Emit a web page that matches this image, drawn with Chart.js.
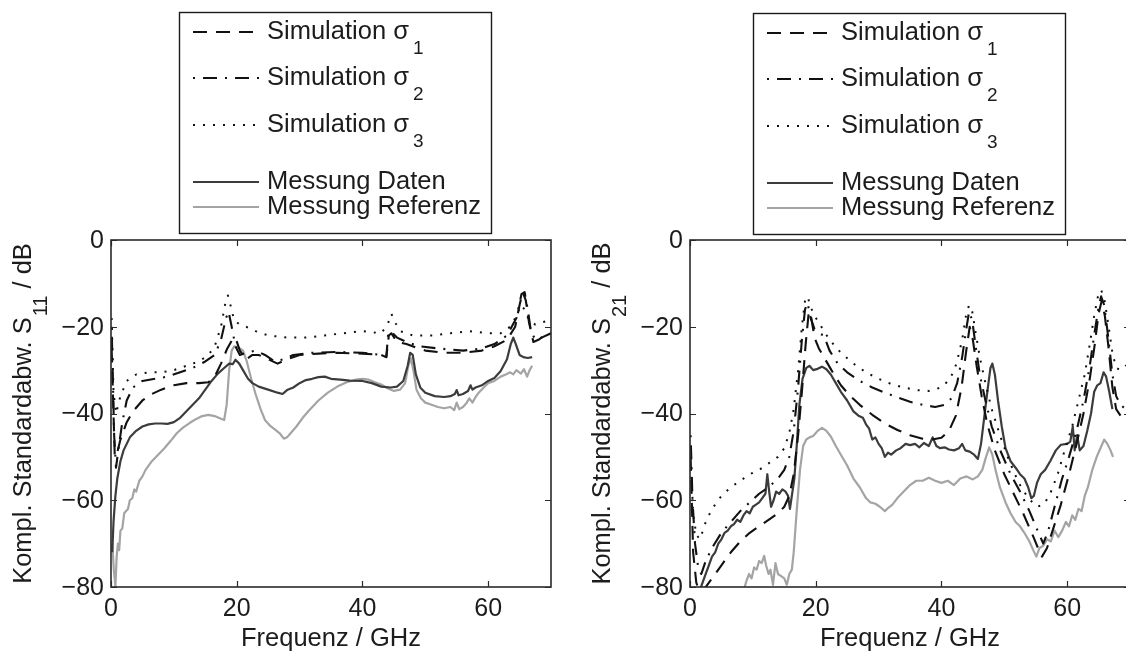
<!DOCTYPE html>
<html>
<head>
<meta charset="utf-8">
<title>Kompl. Standardabweichung S11 / S21</title>
<script src="https://cdn.jsdelivr.net/npm/chart.js@4/dist/chart.umd.min.js"></script>
<style>
  html, body { margin: 0; padding: 0; background: #fff; }
  body { width: 1126px; height: 655px; overflow: hidden; position: relative; }
  .panel { position: absolute; top: 0; width: 563px; height: 655px; }
  #p11 { left: 0; }
  #p21 { left: 579px; }
</style>
</head>
<body>
<div class="panel" id="p11"><canvas id="c11" width="563" height="655"></canvas></div>
<div class="panel" id="p21"><canvas id="c21" width="563" height="655"></canvas></div>
<script>
// ---- axis ticks ----
const xTicks = [0, 20, 40, 60];
const xTickLabels = ['0', '20', '40', '60'];
const yTicks = [-80, -60, -40, -20, 0];
const yTickLabels = ['\u221280', '\u221260', '\u221240', '\u221220', '0'];

// ---- legend ----
const legendNames = ['Simulation \u03c3', 'Simulation \u03c3', 'Simulation \u03c3', 'Messung Daten', 'Messung Referenz'];
const legendSubs = ['1', '2', '3', '', ''];

// ---- S11: [frequency GHz, dB] ----
const s11Sigma1 = [[0.1,-25],[0.6,-50],[1,-49],[1.5,-46],[2.5,-42],[3.5,-39.5],[5,-37],[6.5,-35.5],[8,-34.5],[10,-33.5],[12,-33],[14,-33],[15.5,-32.8],[16.5,-31.5],[17.5,-28.5],[18.5,-25],[19.3,-23],[19.8,-22.5],[20.5,-25.5],[21.5,-27.5],[22.5,-26.5],[23.5,-26.5],[25,-27.5],[26.5,-28.5],[28,-27.5],[30,-26.5],[33,-26.2],[36,-26],[40,-26.2],[43,-26.5],[43.8,-27],[44.2,-22],[44.6,-21.5],[45.5,-23.5],[47,-24],[48.5,-24.8],[50,-25.5],[53,-26],[56,-26],[59,-25.5],[61,-24.5],[63,-23],[64.3,-20],[65,-15],[65.5,-12],[66,-14],[66.5,-19],[67.2,-23.5],[68,-23],[69,-22],[70,-21.5]];
const s11Sigma2 = [[0.1,-20],[0.5,-45],[0.8,-52.5],[1.2,-48],[1.8,-42],[2.5,-37],[3.5,-34],[5,-32.5],[7,-32],[9,-31.5],[11,-30.5],[13,-29.5],[15,-28],[16.5,-26.5],[17.5,-23],[18.3,-18],[18.7,-16.5],[19.2,-20],[19.8,-24.5],[20.5,-26.5],[21.5,-26],[23,-25.5],[24.5,-26.5],[26,-28],[27.5,-27.5],[29,-26.5],[32,-26],[36,-25.8],[40,-26],[43,-26.5],[43.8,-27],[44.1,-21.5],[44.5,-21],[45.5,-22.5],[47,-23.5],[49,-24.5],[52,-25],[56,-25.5],[59,-25],[61,-24],[63,-22],[64.5,-18],[65.3,-12.5],[65.8,-12],[66.3,-16],[66.8,-21],[67.5,-23],[68.5,-22.5],[70,-21.5]];
const s11Sigma3 = [[0.1,-18],[0.4,-35],[0.8,-40],[1.5,-36],[2.5,-32.5],[4,-31],[6,-30.5],[8,-30.5],[10,-30],[12,-29],[14,-28],[15.5,-26.5],[16.5,-24.5],[17.5,-20],[18.2,-14.5],[18.6,-12.8],[19,-15],[19.6,-18.5],[20.5,-19.5],[21.5,-20],[23,-21],[25,-22],[28,-22.5],[31,-22.5],[34,-22],[37,-21.5],[40,-21],[43,-21.5],[44,-19.5],[44.6,-17],[45.2,-19],[46,-21],[48,-22],[51,-22],[54,-21.5],[57,-21],[60,-21.5],[62,-21.5],[63.5,-20],[64.5,-17.5],[65.2,-15],[65.8,-16],[66.5,-18.5],[67.5,-19.5],[68.5,-19],[70,-18.5]];
const s11Daten = [[0.2,-72],[0.4,-65],[0.7,-59],[1,-55],[1.5,-51],[2,-48.5],[3,-45.5],[4,-44],[5,-43],[6,-42.5],[7,-42.3],[8,-42.3],[9,-42.4],[10,-42],[11,-41],[12,-39.5],[13,-38],[14,-36.5],[15,-34.5],[16,-32.5],[17,-30.8],[18,-29.5],[18.8,-28.5],[19.4,-28.6],[19.8,-27.6],[20.4,-28.5],[21,-30],[21.8,-32],[22.5,-33],[23.5,-33.8],[25,-34.5],[26.5,-35.2],[27.3,-35.5],[28,-34.6],[29,-34],[30,-33],[31,-32.3],[32,-32],[33,-31.6],[34,-31.5],[35,-32],[36.5,-32.2],[38,-32.4],[40,-32.5],[41.5,-33],[43,-33.8],[44.5,-34],[45.5,-33.8],[46.5,-32.5],[47.2,-29],[47.6,-26],[48,-26.5],[48.5,-31],[49.2,-34],[50,-35.2],[51.5,-36],[53,-36.2],[54,-36],[54.7,-35.5],[55,-34.6],[55.3,-35.8],[56,-35.5],[56.8,-34.8],[57.2,-33.5],[57.5,-34.5],[58,-34],[59,-33.5],[60,-32.5],[61,-31.8],[62,-30.2],[63,-27.5],[63.6,-24],[64,-22.5],[64.4,-24],[65,-26.5],[65.6,-27],[66.3,-27.2],[67,-27]];
const s11Referenz = [[0.2,-70],[0.45,-76],[0.7,-80],[0.9,-73],[1.1,-70],[1.3,-71.5],[1.5,-67],[1.8,-66.5],[2.1,-63],[2.4,-62.5],[2.7,-62],[3,-60],[3.4,-59.5],[3.7,-57.5],[4,-58],[4.5,-55.5],[5,-54.5],[5.5,-53],[6.5,-51],[7.5,-49.5],[8.5,-48],[9.5,-46.3],[10.5,-44.5],[11.5,-43.2],[12.5,-42.2],[13.5,-41.3],[14.5,-40.6],[15.5,-40.3],[16.5,-40.6],[17.5,-41.2],[18,-41.5],[18.4,-38],[18.8,-30],[19.2,-25.5],[19.6,-24.5],[20.3,-24.8],[21,-25.5],[21.6,-28],[22.3,-32],[23,-35.5],[23.8,-39],[24.5,-41.5],[25.3,-42.8],[26,-43.6],[26.8,-44.5],[27.5,-45.8],[28,-45.5],[28.6,-44.5],[29.5,-43],[30.5,-41],[31.5,-39.3],[33,-37],[34.5,-35.2],[36,-33.8],[37.5,-32.8],[39,-32.2],[40,-32],[41,-32.2],[42,-32.8],[43,-33.3],[44,-34.2],[45,-34.8],[46,-34.5],[46.8,-33],[47.3,-29],[47.7,-27.3],[48.1,-30],[48.6,-34.5],[49.3,-36.5],[50,-37.5],[51,-38],[52,-38.5],[53,-38.8],[54,-38.5],[54.6,-39.2],[55,-37.5],[55.4,-39],[56,-38.5],[56.6,-37.5],[57,-36.5],[57.5,-37.5],[58,-36.2],[58.5,-35.2],[59.3,-34],[60,-33],[61,-32.5],[62,-31.5],[62.8,-31],[63.5,-30.5],[64,-31],[64.5,-30],[65.2,-30.8],[65.7,-29.8],[66.2,-31.5],[66.6,-30],[67,-29]];

// ---- S21: [frequency GHz, dB] ----
const s21Sigma1 = [[0.1,-50],[0.5,-72],[1,-79],[1.5,-81],[2.5,-80],[3.5,-78],[5,-75],[6.5,-72],[8,-69.5],[9.5,-67.5],[11,-66],[12.5,-64.5],[14,-63],[15,-61.5],[15.8,-59],[16.5,-54],[17.2,-45],[17.8,-35],[18.4,-24],[18.9,-16.5],[19.3,-18],[19.8,-22.5],[20.5,-25],[21.5,-27.5],[22.5,-30],[24,-33.5],[25.5,-36],[27,-38],[29,-40.3],[31,-42.3],[33,-43.8],[35,-45],[37,-45.8],[38.5,-46],[40,-45.6],[41.2,-44],[42.3,-40.5],[43.2,-34],[43.9,-26],[44.5,-20],[45,-23],[45.6,-29],[46.4,-36],[47.3,-42.5],[48.5,-48.5],[50,-54],[51.5,-58.5],[53,-63],[54.5,-68],[55.5,-71.5],[56,-73],[56.8,-71],[57.8,-66.5],[59,-61],[60.3,-54],[61.5,-47],[62.6,-40],[63.6,-32],[64.4,-24],[65,-17],[65.5,-14],[66,-17.5],[66.6,-25],[67.2,-34],[67.8,-39],[68.5,-40.5],[69.3,-40.5],[70,-40]];
const s21Sigma2 = [[0.1,-45],[0.4,-60],[0.8,-70],[1.3,-75.5],[1.8,-77],[2.5,-74],[3.5,-71],[5,-67.5],[6.5,-65],[8,-62.5],[9.5,-60.5],[11,-58.5],[12.5,-57],[14,-55],[15,-53],[15.8,-50],[16.5,-44],[17.2,-34],[17.8,-23],[18.3,-16],[18.7,-14.5],[19.2,-18],[19.8,-20.5],[20.5,-21.5],[21.3,-22],[22.2,-25.5],[23.5,-28.5],[25,-30.5],[27,-32.5],[29,-34],[31,-35.2],[33,-36.3],[35,-37.3],[37,-38],[39,-38.5],[40.5,-38],[41.6,-36.5],[42.5,-33],[43.3,-27],[43.9,-21],[44.4,-16.5],[44.9,-18.5],[45.4,-24],[46.1,-31],[47,-37],[48,-43],[49.5,-49],[51,-54],[52.5,-58],[54,-62.5],[55.3,-67],[56.2,-70],[57,-67],[58,-61.5],[59.2,-55],[60.3,-50],[61.5,-44],[62.6,-37],[63.6,-29],[64.4,-21],[65,-15.5],[65.4,-13],[65.9,-15],[66.5,-22],[67.2,-31],[67.8,-36],[68.5,-38],[69.3,-39],[70,-39.5]];
const s21Sigma3 = [[0.1,-50],[0.5,-63],[1,-68],[1.6,-69],[2.5,-65],[3.5,-62],[5,-59],[6.5,-57],[8,-55.5],[9.5,-54],[11,-53],[12.5,-51.5],[14,-50],[15,-48],[15.8,-44.5],[16.5,-39],[17.2,-30],[17.8,-20],[18.3,-14],[18.7,-13],[19.2,-15.5],[19.8,-17.5],[20.5,-19],[21.5,-21.5],[22.5,-23.5],[24,-26],[26,-28.5],[28,-30.5],[30,-32],[32,-33.2],[34,-34],[36,-34.6],[38,-34.8],[40,-34],[41.4,-32],[42.4,-28.5],[43.3,-23],[43.9,-17.5],[44.4,-15],[44.9,-16.5],[45.4,-21],[46.1,-27],[47,-33],[48,-39],[49.3,-45],[50.8,-51],[52.3,-56],[53.8,-59.5],[55.2,-61.5],[56.3,-61],[57.3,-58.5],[58.5,-54],[59.7,-48],[60.8,-43],[61.8,-37],[62.8,-31],[63.6,-24],[64.3,-17.5],[64.9,-13],[65.4,-11.5],[65.9,-13.5],[66.5,-19],[67.2,-26],[67.8,-29.5],[68.5,-30],[69.3,-29],[70,-28.5]];
const s21Daten = [[1.5,-81],[2,-79],[2.5,-77],[3,-75],[3.5,-73],[4,-72],[4.5,-70],[5,-69],[5.5,-67.5],[6,-67],[6.5,-66],[7,-65.5],[7.5,-64.5],[8,-65],[8.5,-63.5],[9,-62.5],[9.5,-63],[10,-61.5],[10.5,-61],[11,-60.5],[11.5,-59.5],[12,-58.5],[12.3,-54],[12.6,-58],[12.9,-61.5],[13.3,-60],[13.7,-58],[14.2,-58.5],[14.7,-57.5],[15.2,-58],[15.6,-59],[15.9,-62],[16.2,-59],[16.6,-55],[17,-47],[17.4,-38],[17.9,-32],[18.5,-29.5],[19,-29],[19.6,-30],[20.3,-29.7],[21,-29.2],[21.7,-29.8],[22.4,-31],[23.2,-33],[24,-35],[25,-37],[26,-39.5],[26.8,-40.5],[27.5,-41],[28,-42.5],[28.5,-43.5],[29,-46],[29.5,-45.5],[30,-47],[30.5,-48],[31,-50],[31.5,-49],[32,-49.5],[32.8,-48.5],[33.5,-48],[34.3,-47],[35,-47.3],[35.8,-47],[36.5,-47.8],[37.2,-46.8],[38,-47.5],[38.6,-45.5],[39.2,-47.5],[39.8,-48],[40.5,-47.8],[41.2,-48.3],[42,-48.5],[42.8,-48],[43.3,-47],[43.8,-48.5],[44.5,-48.8],[45.2,-49.5],[45.8,-50.5],[46.3,-47],[46.8,-41],[47.3,-35],[47.8,-29.5],[48.1,-28.5],[48.5,-31],[49,-37],[49.6,-43],[50.2,-48],[51,-51],[51.8,-52.5],[52.5,-54],[53.2,-55],[53.8,-57],[54.3,-59.5],[54.7,-59],[55.2,-56],[55.8,-54],[56.5,-53],[57.3,-51],[58.2,-48.5],[59,-47.2],[60,-47],[60.5,-46.5],[60.9,-43],[61.2,-48.5],[61.6,-45],[62,-48.5],[62.6,-47.5],[63.2,-44],[63.8,-40],[64.3,-35],[64.8,-33.5],[65.3,-33],[65.8,-30.5],[66.2,-31.5],[66.7,-35],[67.2,-39]];
const s21Referenz = [[8.7,-80],[9,-78.5],[9.4,-77],[9.8,-78],[10.2,-75.5],[10.6,-76],[11,-74],[11.4,-74.5],[11.8,-72.8],[12.1,-75],[12.5,-77],[12.8,-76],[13.2,-79.5],[13.6,-74.5],[14,-77],[14.5,-77.5],[15,-78],[15.4,-79.5],[15.8,-77],[16.2,-76],[16.5,-72],[17,-62],[17.5,-53],[18,-47.5],[18.5,-46],[19,-45.5],[19.6,-45.2],[20.3,-44],[21,-43.3],[21.7,-44],[22.4,-45.3],[23.2,-47.5],[24,-49.5],[25,-52],[26,-55],[27,-57],[28,-59.5],[28.7,-60.5],[29.5,-60.8],[30.2,-61.5],[31,-62.5],[31.5,-61.8],[32.2,-61],[33,-59.5],[34,-58],[35,-56.5],[36,-55.5],[37,-55.5],[38,-54.8],[39,-55.5],[40,-56],[41,-55.5],[42,-56.5],[43,-55],[44,-54.5],[45,-55.2],[45.8,-54.5],[46.5,-53],[47.1,-50],[47.6,-47.8],[48.1,-49.5],[48.6,-53],[49.3,-57],[50.2,-60.5],[51,-63],[51.8,-65],[52.5,-66],[53.2,-67.5],[54,-69.5],[54.6,-71.5],[55.1,-73],[55.6,-71],[56.2,-70.5],[56.8,-69],[57.4,-69.5],[58,-67],[58.6,-68.5],[59.2,-67],[59.8,-65],[60.3,-66],[60.8,-63.5],[61.3,-64.5],[61.8,-62],[62.3,-62.5],[62.8,-59],[63.3,-57],[64,-53],[64.7,-50],[65.3,-48],[65.9,-46],[66.4,-47],[66.9,-48.5],[67.3,-50]];

// ---- styling ----
const FONT_FAMILY = '"Liberation Sans", Arial, Helvetica, sans-serif';
const TEXT_COLOR = '#1c1c1c';
const seriesStyles = [
  { color: '#111111', width: 2.1, dash: [14, 9] },
  { color: '#111111', width: 2.1, dash: [2, 8, 14, 8] },
  { color: '#111111', width: 2,   dash: [2, 8] },
  { color: '#3c3c3c', width: 2.2, dash: [] },
  { color: '#a4a4a4', width: 2.2, dash: [] }
];

function toPoints(pairs) {
  return pairs.map(([f, v]) => ({ x: f, y: v }));
}

function buildDatasets(seriesList) {
  return seriesList.map((pairs, i) => ({
    label: legendNames[i],
    sub: legendSubs[i],
    data: toPoints(pairs),
    borderColor: seriesStyles[i].color,
    borderWidth: seriesStyles[i].width,
    borderDash: seriesStyles[i].dash,
    borderCapStyle: 'butt',
    borderJoinStyle: 'round',
    pointRadius: 0,
    fill: false,
    tension: 0
  }));
}

// text run: main string, lowered subscript, optional tail; returns total advance
function drawWithSub(ctx, main, sub, tail, x, y, f) {
  ctx.font = f.size + 'px ' + FONT_FAMILY;
  ctx.fillText(main, x, y);
  let w = ctx.measureText(main).width;
  if (sub) {
    ctx.font = f.subSize + 'px ' + FONT_FAMILY;
    ctx.fillText(sub, x + w + f.subGap, y + f.subDrop);
    w += ctx.measureText(sub).width + f.subGap;
  }
  if (tail) {
    ctx.font = f.size + 'px ' + FONT_FAMILY;
    ctx.fillText(tail, x + w, y);
    w += ctx.measureText(tail).width;
  }
  return w;
}

function measureWithSub(ctx, main, sub, tail, f) {
  ctx.font = f.size + 'px ' + FONT_FAMILY;
  let w = ctx.measureText(main).width + (tail ? ctx.measureText(tail).width : 0);
  if (sub) {
    ctx.font = f.subSize + 'px ' + FONT_FAMILY;
    w += ctx.measureText(sub).width + f.subGap;
  }
  return w;
}

// box frame, inward ticks on all four sides, tick labels and axis titles
const axisFrame = {
  id: 'axisFrame',
  afterDatasetsDraw(chart, args, o) {
    const { ctx, chartArea: a } = chart;
    const xs = chart.scales.x, ys = chart.scales.y;
    ctx.save();
    ctx.setLineDash([]);
    ctx.strokeStyle = '#2a2a2a';
    ctx.lineWidth = 1.6;
    ctx.strokeRect(a.left, a.top, a.right - a.left, a.bottom - a.top);
    const L = 6;
    ctx.lineWidth = 1.2;
    ctx.beginPath();
    xs.ticks.forEach(t => {
      const px = Math.round(xs.getPixelForValue(t.value)) + 0.5;
      ctx.moveTo(px, a.bottom); ctx.lineTo(px, a.bottom - L);
      ctx.moveTo(px, a.top); ctx.lineTo(px, a.top + L);
    });
    ys.ticks.forEach(t => {
      const py = Math.round(ys.getPixelForValue(t.value)) + 0.5;
      ctx.moveTo(a.left, py); ctx.lineTo(a.left + L, py);
      ctx.moveTo(a.right, py); ctx.lineTo(a.right - L, py);
    });
    ctx.stroke();

    ctx.fillStyle = TEXT_COLOR;
    ctx.font = o.tickSize + 'px ' + FONT_FAMILY;
    ctx.textAlign = 'center';
    ctx.textBaseline = 'middle';
    xs.ticks.forEach((t, i) => {
      ctx.fillText(xTickLabels[i], xs.getPixelForValue(t.value), a.bottom + 22);
    });
    ctx.textAlign = 'right';
    ys.ticks.forEach((t, i) => {
      ctx.fillText(yTickLabels[i], a.left - 7, ys.getPixelForValue(t.value) + 1);
    });

    // x title
    ctx.textAlign = 'center';
    ctx.font = o.title.size + 'px ' + FONT_FAMILY;
    ctx.fillText(o.xTitle, (a.left + a.right) / 2, a.bottom + 52);

    // y title, rotated, with subscript
    ctx.textAlign = 'left';
    const tw = measureWithSub(ctx, o.yTitle[0], o.yTitle[1], o.yTitle[2], o.title);
    ctx.translate(a.left - 87, (a.top + a.bottom) / 2);
    ctx.rotate(-Math.PI / 2);
    drawWithSub(ctx, o.yTitle[0], o.yTitle[1], o.yTitle[2], -tw / 2, 0, o.title);
    ctx.restore();
  }
};

// framed legend with sample lines and subscripted names
const boxLegend = {
  id: 'boxLegend',
  afterDraw(chart, args, o) {
    const ctx = chart.ctx;
    ctx.save();
    ctx.fillStyle = '#fff';
    ctx.fillRect(o.left, o.top, o.width, o.height);
    ctx.strokeStyle = '#1a1a1a';
    ctx.lineWidth = 1.4;
    ctx.setLineDash([]);
    ctx.strokeRect(o.left + 0.5, o.top + 0.5, o.width, o.height);
    chart.data.datasets.forEach((ds, i) => {
      const yc = o.top + o.rows[i];
      ctx.beginPath();
      ctx.strokeStyle = ds.borderColor;
      ctx.lineWidth = ds.borderWidth;
      ctx.lineCap = 'butt';
      ctx.setLineDash(ds.borderDash);
      ctx.moveTo(o.left + 14, yc);
      ctx.lineTo(o.left + 80, yc);
      ctx.stroke();
      ctx.setLineDash([]);
      ctx.fillStyle = TEXT_COLOR;
      ctx.textAlign = 'left';
      ctx.textBaseline = 'middle';
      drawWithSub(ctx, ds.label, ds.sub, '', o.left + 88, yc, o.text);
    });
    ctx.restore();
  }
};

function makeChart(canvasId, seriesList, yTitle, legendPos) {
  return new Chart(document.getElementById(canvasId), {
    type: 'line',
    data: { datasets: buildDatasets(seriesList) },
    plugins: [axisFrame, boxLegend],
    options: {
      responsive: false,
      animation: false,
      events: [],
      layout: { padding: { left: 111, right: 12, top: 240, bottom: 68 } },
      scales: {
        x: {
          type: 'linear', min: 0, max: 70, display: false,
          afterBuildTicks: s => { s.ticks = xTicks.map(v => ({ value: v })); }
        },
        y: {
          type: 'linear', min: -80, max: 0, display: false,
          afterBuildTicks: s => { s.ticks = yTicks.map(v => ({ value: v })); }
        }
      },
      plugins: {
        legend: { display: false },
        tooltip: { enabled: false },
        axisFrame: {
          tickSize: 25,
          title: { size: 25.5, subSize: 20, subGap: 1, subDrop: 17 },
          xTitle: 'Frequenz / GHz', yTitle: yTitle
        },
        boxLegend: Object.assign({
          width: 312, height: 221, rows: [20, 66, 113, 170, 195],
          text: { size: 25.5, subSize: 19, subGap: 4, subDrop: 17 }
        }, legendPos)
      }
    }
  });
}

makeChart('c11', [s11Sigma1, s11Sigma2, s11Sigma3, s11Daten, s11Referenz],
  ['Kompl. Standardabw. S', '11', ' / dB'], { left: 179, top: 12 });
makeChart('c21', [s21Sigma1, s21Sigma2, s21Sigma3, s21Daten, s21Referenz],
  ['Kompl. Standardabw. S', '21', ' / dB'], { left: 174, top: 13 });
</script>
</body>
</html>
